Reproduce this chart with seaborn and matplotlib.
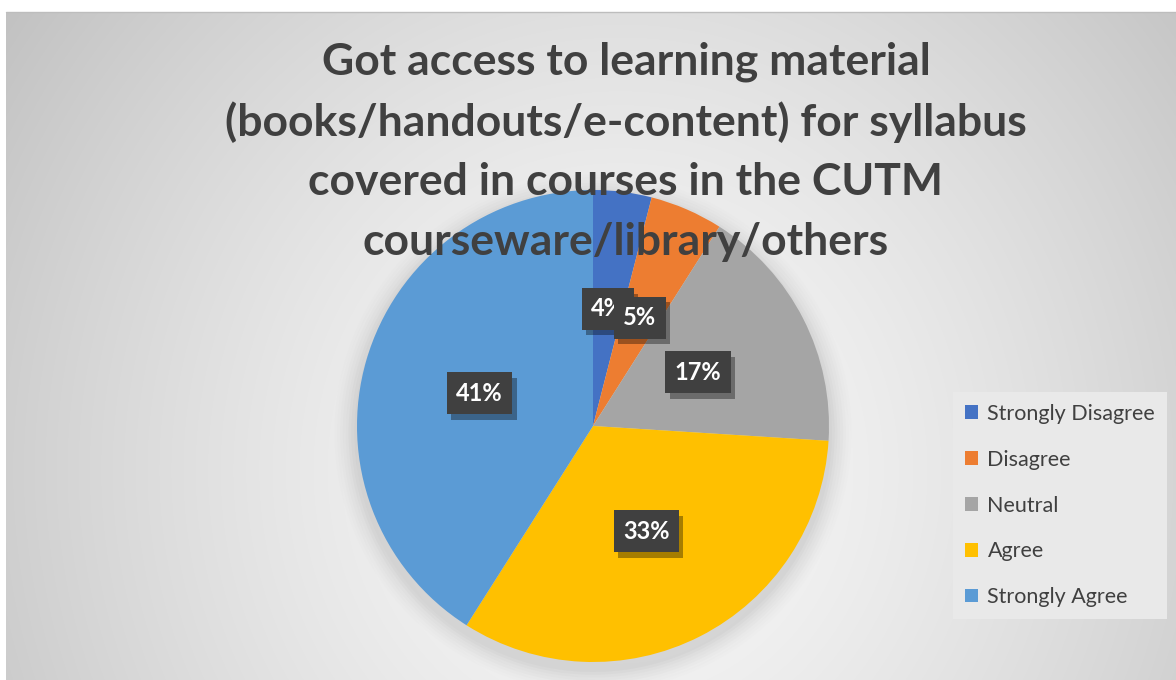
import numpy as np
import matplotlib
matplotlib.use("Agg")
import matplotlib.pyplot as plt
import matplotlib.patheffects as pe
from matplotlib.patches import Circle
import seaborn as sns

# Survey responses
categories = ["Strongly Disagree", "Disagree", "Neutral", "Agree", "Strongly Agree"]
shares = [4, 5, 17, 33, 41]
title_lines = [
    "Got access to learning material",
    "(books/handouts/e-content) for syllabus",
    "covered in courses in the CUTM",
    "courseware/library/others",
]
colors = ["#4472C4", "#ED7D31", "#A5A5A5", "#FFC000", "#5B9BD5"]

sns.set_theme(style="white")
plt.rcParams["font.family"] = ["Lato", "DejaVu Sans"]

W, H = 1176, 680
fig = plt.figure(figsize=(W / 100, H / 100), dpi=100)

# Background: grey radial gradient panel with a thin top border
bg = fig.add_axes([0, 0, 1, 1], zorder=-10)
yy, xx = np.mgrid[0:H, 0:W]
d = np.sqrt(((xx - 620) / 1.0) ** 2 + ((yy - 470) / 1.05) ** 2)
val = 0.975 - 0.22 * (d / d.max()) ** 1.4
val[(yy < 12) | (xx < 6)] = 1.0
img = np.dstack([val, val, val])
bg.imshow(img, extent=[0, W, H, 0], aspect="auto", interpolation="bilinear")
bg.plot([6, W], [12, 12], color="#bdbdbd", lw=1)
bg.set_xlim(0, W)
bg.set_ylim(H, 0)
bg.axis("off")

# Pie axes: circle centred at (593, 426) px, radius 236 px
cx, cy, r = 593, 426, 236
ax = fig.add_axes([(cx - r) / W, (H - cy - r) / H, 2 * r / W, 2 * r / H])

# soft shadow under the pie
for i, a in enumerate(np.linspace(0.05, 0.01, 8)):
    ax.add_patch(Circle((0.0, -0.03), 1.0 + 0.012 * (i + 1), color="#808080",
                        alpha=a, lw=0, zorder=0, clip_on=False))

wedges, _, autotexts = ax.pie(
    shares, colors=colors, startangle=90, counterclock=False,
    autopct=lambda p: f"{p:.0f}%", pctdistance=0.5,
    wedgeprops=dict(linewidth=0, zorder=1),
    textprops=dict(color="white", fontsize=17, fontweight="bold"),
)
for t in autotexts:
    t.set_bbox(dict(boxstyle="square,pad=0.4", facecolor="#404040", edgecolor="none"))
    t.set_zorder(5)
    t.get_bbox_patch().set_path_effects([
        pe.SimplePatchShadow(offset=(3, -4), shadow_rgbFace="#000000", alpha=0.35),
        pe.Normal(),
    ])
ax.set_xlim(-1, 1)
ax.set_ylim(-1, 1)
ax.set_aspect("equal")
ax.axis("off")

# Title drawn over the pie
for i, line in enumerate(title_lines):
    fig.text(626 / W, 1 - (62 + i * 60) / H, line, ha="center", va="center",
             fontsize=32, fontweight="bold", color="#404040", zorder=20)

# Legend box on the right
leg = fig.legend(
    wedges, categories, loc="upper left",
    bbox_to_anchor=(953 / W, 1 - 392 / H), borderaxespad=0,
    frameon=True, fancybox=False, framealpha=1,
    facecolor="#e9e9e9", edgecolor="none",
    handlelength=0.6, handleheight=0.6, handletextpad=0.45,
    labelspacing=1.2, borderpad=0.55,
    prop=dict(family=["Lato", "DejaVu Sans"], size=15.5),
    labelcolor="#404040",
)
leg.set_zorder(15)

fig.savefig("out.png", dpi=100)
